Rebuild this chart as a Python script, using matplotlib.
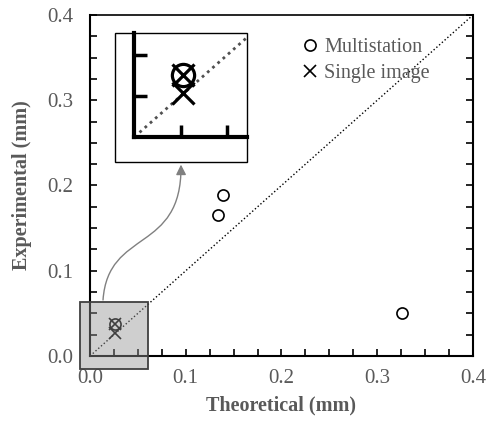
import matplotlib
matplotlib.use("Agg")
import matplotlib.pyplot as plt
from matplotlib.patches import Rectangle, FancyArrowPatch
from matplotlib.path import Path
import numpy as np

matplotlib.rcParams['font.family'] = ['Liberation Serif', 'DejaVu Serif']
matplotlib.rcParams['font.size'] = 14

# data
multi_x = [0.026, 0.134, 0.139, 0.326]
multi_y = [0.038, 0.165, 0.189, 0.050]
single_x = [0.026, 0.026]
single_y = [0.038, 0.027]
ref_line = [0.0, 0.4]
ticks = [0.0, 0.1, 0.2, 0.3, 0.4]
tick_labels = ['0.0', '0.1', '0.2', '0.3', '0.4']
zoom_x = (-0.0104, 0.0606)
zoom_y = (-0.0152, 0.0633)

grey = '#595959'

fig = plt.figure(figsize=(4.89, 4.23), dpi=100)
ax = fig.add_axes([90/489, 67/423, 383/489, 341/423])

ax.plot(ref_line, ref_line, color='black', ls=':', lw=1.0, zorder=1)
ax.plot(multi_x, multi_y, 'o', mfc='none', mec='black', ms=8, mew=1.2,
        label='Multistation', zorder=3)
ax.plot(single_x, single_y, 'x', color='black', ms=8, mew=1.2,
        label='Single image', zorder=3)

ax.set_xlim(0, 0.4)
ax.set_ylim(0, 0.4)
ax.set_xticks(ticks)
ax.set_xticklabels(tick_labels)
ax.set_yticks(ticks)
ax.set_yticklabels(tick_labels)
ax.set_xticks(np.arange(0, 0.401, 0.025), minor=True)
ax.set_yticks(np.arange(0, 0.401, 0.025), minor=True)
ax.tick_params(which='both', direction='in', length=5, width=1.2,
               colors='black', labelcolor=grey, labelsize=15)
ax.tick_params(axis='y', which='both', right=True, pad=12)
ax.tick_params(axis='x', which='both', pad=9)
for s in ax.spines.values():
    s.set_linewidth(1.5)
ax.spines['top'].set_linewidth(1.2)

ax.set_xlabel('Theoretical (mm)', fontweight='bold', color=grey,
              fontsize=14.5, labelpad=6)
ax.set_ylabel('Experimental (mm)', fontweight='bold', color=grey,
              fontsize=14.5, labelpad=11)

leg = ax.legend(loc='upper right', bbox_to_anchor=(0.935, 0.985), frameon=False,
                handlelength=0.7, handletextpad=0.35, labelspacing=0.35,
                fontsize=14.5)
for t in leg.get_texts():
    t.set_color(grey)

# grey box marking the zoomed region
ax.add_patch(Rectangle((zoom_x[0], zoom_y[0]), zoom_x[1] - zoom_x[0],
                       zoom_y[1] - zoom_y[0], facecolor=(0.577, 0.577, 0.577, 0.44),
                       edgecolor='#404040', lw=1.3, clip_on=False, zorder=5))

# curved arrow from box to inset
p0 = (0.0136, 0.0657)
c1 = (0.0188, 0.150)
c2 = (0.0960, 0.120)
p1 = (0.0950, 0.2245)
path = Path([p0, c1, c2, p1], [Path.MOVETO, Path.CURVE4, Path.CURVE4, Path.CURVE4])
arr = FancyArrowPatch(path=path, arrowstyle='-|>,head_length=6,head_width=3',
                      color='#808080', lw=1.0, clip_on=False, zorder=6)
ax.add_patch(arr)

# inset: magnified picture of the box
ins = fig.add_axes([115/489, (423-162)/423, 132/489, 129/423])
ins.set_xlim(zoom_x)
ins.set_ylim(zoom_y)
ins.plot(ref_line, ref_line, color='#505050', ls=(0, (1, 1.5)), lw=2.0, zorder=1)
ins.plot(multi_x, multi_y, 'o', mfc='none', mec='black', ms=16, mew=2.3, zorder=3)
ins.plot(single_x, single_y, 'x', color='black', ms=16, mew=2.3, zorder=3)
for s in ['top', 'right']:
    ins.spines[s].set_visible(False)
ins.spines['left'].set_position(('data', 0))
ins.spines['bottom'].set_position(('data', 0))
ins.spines['left'].set_bounds(0, zoom_y[1])
ins.spines['bottom'].set_bounds(0, zoom_x[1])
ins.spines['left'].set_linewidth(3)
ins.spines['bottom'].set_linewidth(3)
ins.set_xticks([0.025, 0.05])
ins.set_yticks([0.025, 0.05])
ins.tick_params(direction='in', length=9, width=2.5, labelleft=False,
                labelbottom=False)
ins.add_patch(Rectangle((0, 0), 1, 1, transform=ins.transAxes, fill=False,
                        edgecolor='black', lw=1.0, clip_on=False, zorder=10))

fig.savefig('out.png', dpi=100)
